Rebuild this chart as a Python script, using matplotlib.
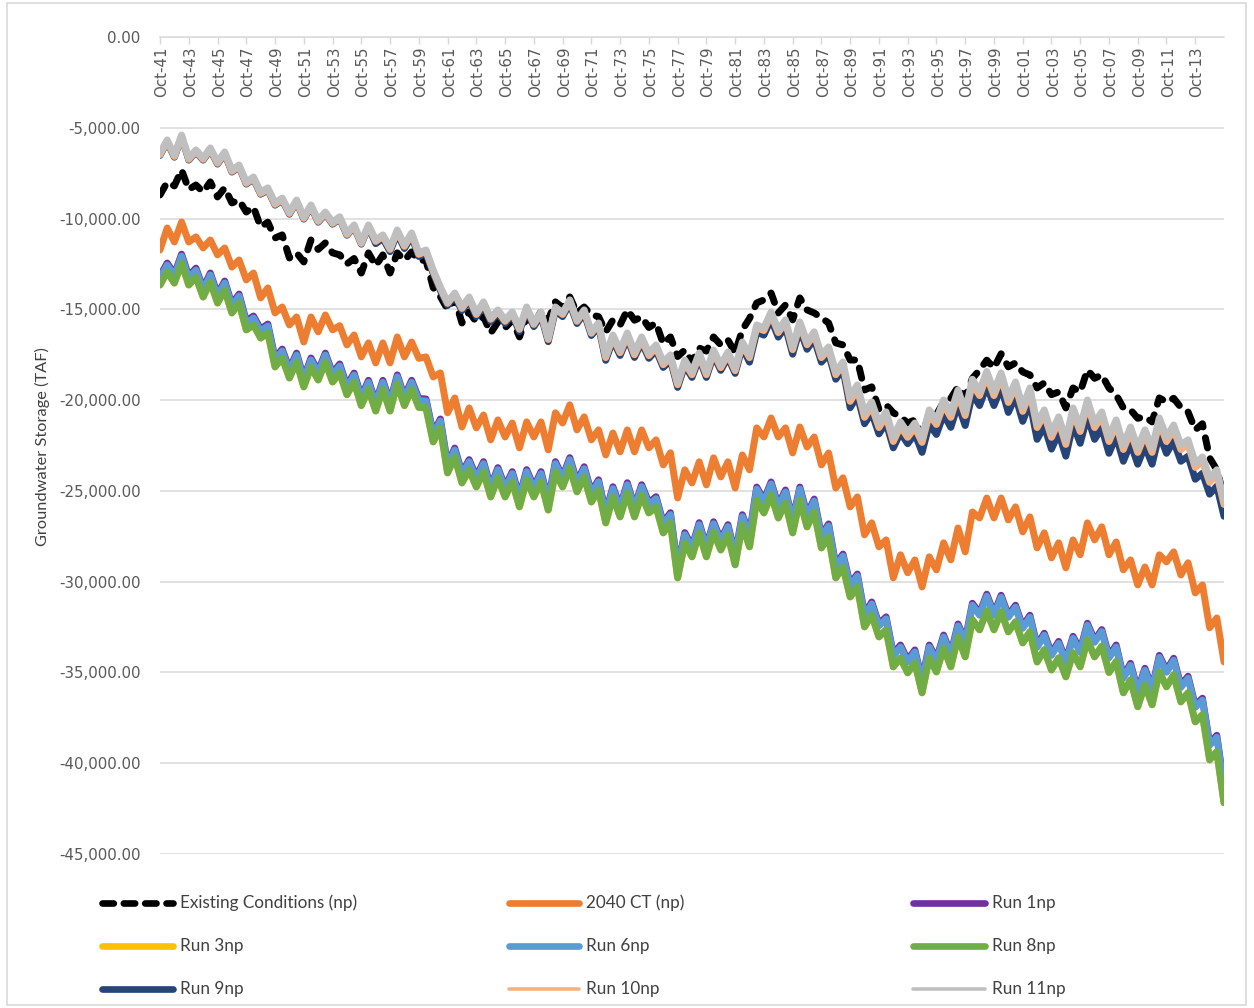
import numpy as np
import matplotlib
matplotlib.use('Agg')
import matplotlib.pyplot as plt
from matplotlib.lines import Line2D
from matplotlib.patches import Rectangle

# Groundwater storage (TAF), one low (October) and one high (April) per water year,
# water years starting Oct-1941 through the end of Sep-2015
ec_fall = [-8700, -8200, -8400, -8540, -8810, -9140, -9640, -10460, -11070, -12170,
           -12390, -11700, -11890, -12500, -13000, -12600, -13000, -12300, -12300, -13800,
           -15000, -15750, -15700, -16300, -16020, -16520, -15900, -15600, -14900, -15200,
           -15310, -16240, -15860, -15600, -16000, -16900, -17600, -17900, -17300, -16960,
           -17400, -15500, -14480, -15200, -15580, -15030, -15470, -16850, -17790, -19440,
           -20500, -20700, -21260, -22030, -20800, -19900, -19850, -18340, -18230, -18170,
           -18450, -19330, -19700, -20430, -19550, -18800, -19330, -20430, -21000, -21200,
           -20100, -20400, -21640, -23180, -25300]
ec_spring = [-8000, -7320, -8150, -7980, -8310, -8980, -9360, -10200, -10900, -11890,
             -11180, -11340, -12000, -12200, -11890, -12000, -11890, -11840, -12300, -14300,
             -14400, -15140, -15400, -15700, -15600, -15400, -15100, -14590, -14320, -14870,
             -15400, -15580, -15030, -15420, -15750, -16520, -17240, -17130, -16520, -16690,
             -16130, -14650, -14100, -14760, -14370, -15200, -15750, -16960, -17790, -19270,
             -20260, -20920, -21090, -20700, -20100, -19270, -18800, -17800, -17450, -17950,
             -18610, -19050, -19550, -19330, -18340, -18610, -19710, -20540, -20920, -19880,
             -19900, -20650, -21300, -23840]

ct2040_fall = [-11730, -11290, -11290, -11620, -12000, -12670, -13380, -14370, -15200, -15860,
               -16800, -16240, -16130, -16960, -17620, -17950, -17950, -17620, -17700, -18720,
               -20700, -21480, -21530, -22190, -22030, -22630, -22030, -22740, -21260, -21640,
               -22190, -23020, -22850, -22850, -22630, -23570, -25390, -24560, -24670, -24230,
               -24840, -23840, -22030, -22030, -22910, -22580, -23570, -24840, -25880, -27420,
               -28080, -29790, -29510, -30290, -29350, -28800, -28360, -26490, -26490, -26600,
               -27260, -28140, -28690, -29240, -28520, -27700, -28520, -29350, -30180, -30180,
               -28910, -29630, -30620, -32540, -34420]
ct2040_spring = [-10520, -10190, -11010, -11180, -11620, -12280, -13000, -13820, -14870, -15420,
                 -15420, -15310, -15900, -16410, -16850, -16850, -16520, -16800, -17620, -18500,
                 -19880, -20430, -20820, -21090, -21260, -21200, -21200, -20700, -20260, -20920,
                 -21640, -21810, -21640, -21640, -22190, -22900, -23840, -23400, -23180, -23400,
                 -23020, -21530, -20980, -21530, -21480, -22030, -22910, -24280, -25330, -26760,
                 -27700, -28520, -28800, -28630, -27860, -27040, -26160, -25390, -25390, -25880,
                 -26430, -27310, -27860, -27700, -26760, -26980, -27810, -28800, -29190, -28520,
                 -28360, -28960, -30180, -32000]

run8_fall = [-13660, -13550, -13660, -14320, -14650, -15200, -16130, -16580, -18170, -18780,
             -19270, -18890, -19000, -19700, -20300, -20600, -20600, -20300, -20400, -22300,
             -24010, -24560, -24780, -25330, -25330, -25880, -25330, -26050, -24780, -25050,
             -25610, -26760, -26430, -26430, -26210, -27310, -29790, -28630, -28630, -28250,
             -29070, -28080, -26210, -26490, -27310, -26980, -28140, -29790, -30840, -32490,
             -33040, -34690, -35020, -36120, -34970, -34690, -34140, -32650, -32650, -32760,
             -33370, -34420, -34860, -35240, -34690, -34140, -35000, -36120, -36890, -36780,
             -35790, -36620, -37720, -39810, -42180]
run8_spring = [-12940, -12450, -13220, -13490, -13930, -14650, -15860, -16300, -17680, -17900,
               -18170, -17900, -18500, -19000, -19400, -19400, -19100, -19400, -20430, -21530,
               -23130, -23840, -23950, -24280, -24500, -24390, -24500, -23950, -23730, -24230,
               -24950, -25330, -25110, -25220, -25880, -26760, -27860, -27310, -27260, -27420,
               -26870, -25500, -25220, -25660, -25500, -26160, -27530, -29190, -30290, -31830,
               -32650, -34200, -34470, -34200, -33650, -33040, -32100, -31600, -31660, -32210,
               -32760, -33750, -34200, -33920, -33200, -33550, -34400, -35410, -35680, -34970,
               -35130, -36120, -37330, -39370]

run11_fall = [-6400, -6500, -6660, -6660, -6880, -7320, -7980, -8540, -9140, -9640,
              -9910, -10080, -10190, -10800, -11290, -11180, -11620, -11450, -11890, -12830,
              -14590, -14870, -15200, -15470, -15580, -16020, -15750, -16580, -15200, -15580,
              -16240, -17510, -17240, -17350, -17400, -17900, -19000, -18450, -18450, -18060,
              -18230, -17510, -16020, -16130, -17070, -16800, -17510, -18450, -19820, -20700,
              -21260, -22030, -21800, -22080, -21090, -20700, -20600, -19500, -19500, -19880,
              -20370, -21260, -21800, -22190, -21480, -21260, -22030, -22470, -22630, -22630,
              -22030, -22470, -23460, -24280, -25500]
run11_spring = [-5670, -5400, -6220, -6110, -6330, -7050, -7710, -8310, -8870, -8980,
                -9250, -9640, -9900, -10350, -10350, -10900, -10630, -10790, -11730, -13770,
                -14100, -14320, -14590, -15030, -15140, -14870, -15140, -14870, -14480, -15030,
                -15750, -16410, -16300, -16520, -16960, -17510, -17790, -17400, -17240, -17350,
                -16800, -15860, -15140, -15580, -15690, -16240, -17070, -17900, -19160, -20100,
                -20650, -21200, -21260, -20540, -19990, -19440, -18850, -18420, -18500, -19000,
                -19330, -20540, -20920, -20430, -19990, -20650, -21090, -21480, -21640, -20980,
                -21370, -22190, -23130, -23840]

# how far the close runs sit from their neighbour, per water year
run9_below_run11 = [120] * 15 + [200] * 16 + [300] * 10 + [400] * 7 + [600] * 5 + [800] * 8 + [900] * 14
run10_below_run11 = [80] * 31 + [150] * 17 + [250] * 27
run6_above_run8 = [380] * 21 + [450] * 20 + [600] * 15 + [800] * 19
run1_above_run6 = [110] * 75

x_labels = ['Oct-41', 'Oct-43', 'Oct-45', 'Oct-47', 'Oct-49', 'Oct-51', 'Oct-53', 'Oct-55',
            'Oct-57', 'Oct-59', 'Oct-61', 'Oct-63', 'Oct-65', 'Oct-67', 'Oct-69', 'Oct-71',
            'Oct-73', 'Oct-75', 'Oct-77', 'Oct-79', 'Oct-81', 'Oct-83', 'Oct-85', 'Oct-87',
            'Oct-89', 'Oct-91', 'Oct-93', 'Oct-95', 'Oct-97', 'Oct-99', 'Oct-01', 'Oct-03',
            'Oct-05', 'Oct-07', 'Oct-09', 'Oct-11', 'Oct-13']


def interleave(fall, spring):
    vals = []
    for f, s in zip(fall, spring):
        vals += [f, s]
    vals.append(fall[-1])
    return np.array(vals, dtype=float)


def per_point(gap):
    return np.repeat(np.array(gap, dtype=float), 2)[:149]


ec = interleave(ec_fall, ec_spring)
ct2040 = interleave(ct2040_fall, ct2040_spring)
run8 = interleave(run8_fall, run8_spring)
run3 = run8.copy()
run6 = run8 + per_point(run6_above_run8)
run1 = run6 + per_point(run1_above_run6)
run11 = interleave(run11_fall, run11_spring)
run10 = run11 - per_point(run10_below_run11)
run9 = run11 - per_point(run9_below_run11)
t = np.arange(len(ec)) * 0.5

series = [
    ('Existing Conditions (np)', ec, 'black', True),
    ('2040 CT (np)', ct2040, '#ED7D31', False),
    ('Run 1np', run1, '#7030A0', False),
    ('Run 3np', run3, '#FFC000', False),
    ('Run 6np', run6, '#5B9BD5', False),
    ('Run 8np', run8, '#70AD47', False),
    ('Run 9np', run9, '#264478', False),
    ('Run 10np', run10, '#F4B183', False),
    ('Run 11np', run11, '#BFBFBF', False),
]

W, H = 1254, 1008
fig = plt.figure(figsize=(W / 100, H / 100), dpi=100)
fig.patch.set_facecolor('white')

ax = fig.add_axes([160 / W, 1 - 854 / H, (1224 - 160) / W, (854 - 37) / H])
for name, vals, col, dashed in series:
    if dashed:
        ax.plot(t, vals, color=col, lw=5.0, dashes=(1.5, 1.6),
                dash_capstyle='round', solid_joinstyle='round')
    else:
        ax.plot(t, vals, color=col, lw=5.0, solid_capstyle='round',
                solid_joinstyle='round')

ax.set_xlim(0, 74)
ax.set_ylim(-45000, 0)
for s in ['left', 'right', 'bottom']:
    ax.spines[s].set_visible(False)
ax.spines['top'].set_color('#D9D9D9')
ax.spines['top'].set_linewidth(1.1)

yt = list(range(-45000, 1, 5000))
ax.set_yticks(yt)
ax.set_yticklabels(['{:,.2f}'.format(v) for v in yt], fontsize=10.8,
                   color='#595959', family='DejaVu Sans')
ax.tick_params(axis='y', length=0, pad=14)
ax.yaxis.grid(True, color='#D9D9D9', lw=1.1)
ax.set_axisbelow(True)

tick_pos = np.arange(len(x_labels)) * 2
ax.set_xticks(tick_pos)
ax.tick_params(axis='x', bottom=False, top=True, labelbottom=False, labeltop=False,
               direction='in', length=5, width=1, color='#D9D9D9')
for p, lab in zip(tick_pos, x_labels):
    ax.text(p + 0.12, -550, lab, rotation=90, ha='center', va='top',
            fontsize=10.8, color='#595959', family='DejaVu Sans')

fig.text(42 / W, 1 - 447 / H, 'Groundwater Storage (TAF)', rotation=90,
         ha='center', va='center', fontsize=11.8, color='#404040', family='Lato')

# legend and chart border in pixel coordinates
lay = fig.add_axes([0, 0, 1, 1])
lay.set_xlim(0, W)
lay.set_ylim(H, 0)
lay.axis('off')
lay.add_patch(Rectangle((7, 3), W - 15, H - 6, fill=False, ec='#D9D9D9', lw=1.2))

rows = [903, 946, 989]
cols = [(102, 173), (509, 579), (913, 985)]
for k, (name, vals, col, dashed) in enumerate(series):
    r, c = divmod(k, 3)
    x0, x1 = cols[c]
    y = rows[r]
    lw = 2.6 if name in ('Run 10np', 'Run 11np') else 4.8
    if dashed:
        lay.add_line(Line2D([x0, x1], [y, y], color=col, lw=lw, dashes=(1.7, 1.5),
                            dash_capstyle='round'))
    else:
        lay.add_line(Line2D([x0, x1], [y, y], color=col, lw=lw, solid_capstyle='round'))
    lay.text(x1 + 7, y, name, ha='left', va='center', fontsize=12.3,
             color='#404040', family='Lato')

fig.savefig('out.png', dpi=100, facecolor='white')
